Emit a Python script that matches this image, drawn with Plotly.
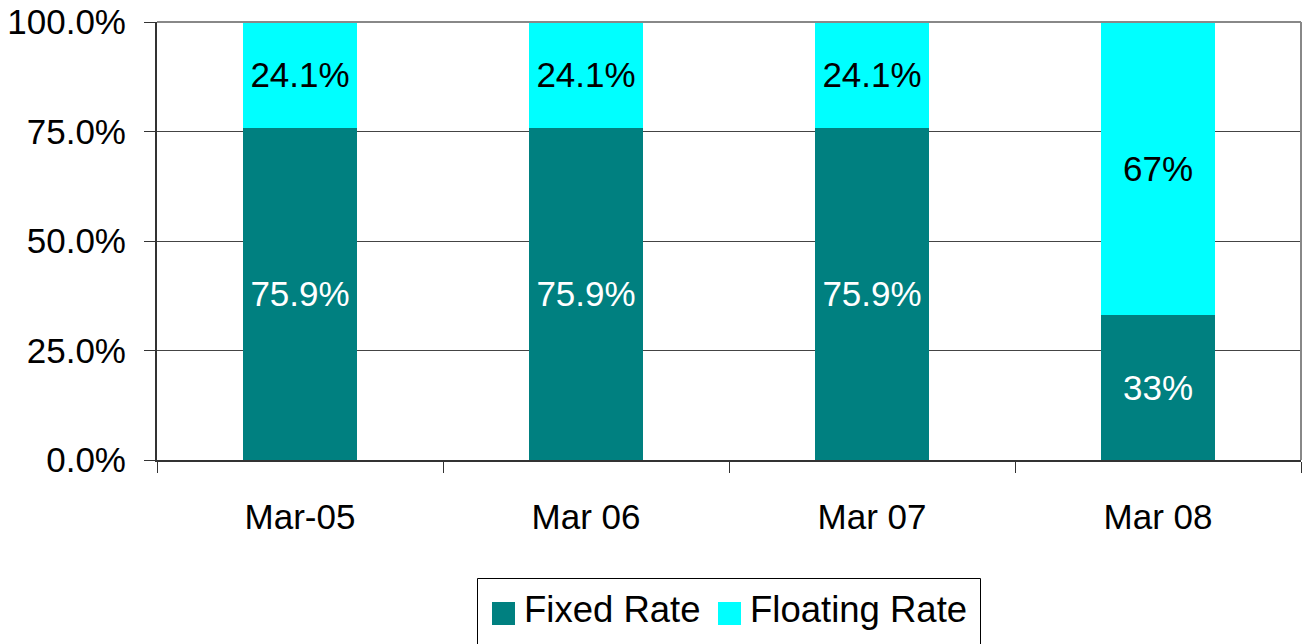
import plotly.graph_objects as go

# Debt mix by year-end (percent of total borrowings)
periods = ["Mar-05", "Mar 06", "Mar 07", "Mar 08"]
fixed_rate = [75.9, 75.9, 75.9, 33]
floating_rate = [24.1, 24.1, 24.1, 67]
y_ticks = [0, 25, 50, 75, 100]

FIXED_COLOR = "#008080"
FLOAT_COLOR = "#00FFFF"
FONT = "Liberation Sans, Arial, sans-serif"

W, H = 1307, 644
L, R, T, B = 157, 6, 22, 184
PW, PH = W - L - R, H - T - B


def label(v):
    return f"{v:g}%"


def px_x(x):
    return (x - L) / PW


def px_y(y):
    return (H - B - y) / PH


fig = go.Figure()
fig.add_bar(
    x=periods, y=fixed_rate, name="Fixed Rate",
    marker=dict(color=FIXED_COLOR, line=dict(width=0)),
    text=[label(v) for v in fixed_rate], textposition="inside",
    insidetextanchor="middle", textangle=0,
    textfont=dict(color="white", size=35, family=FONT),
    showlegend=False,
)
fig.add_bar(
    x=periods, y=floating_rate, name="Floating Rate",
    marker=dict(color=FLOAT_COLOR, line=dict(width=0)),
    text=[label(v) for v in floating_rate], textposition="inside",
    insidetextanchor="middle", textangle=0,
    textfont=dict(color="black", size=35, family=FONT),
    showlegend=False,
)

# Plot-area frame: grey top and right edges
shapes = [
    dict(type="line", xref="paper", yref="paper", x0=0, x1=1, y0=1, y1=1,
         line=dict(color="#888888", width=2)),
    dict(type="line", xref="paper", yref="paper", x0=1, x1=1, y0=0, y1=1,
         line=dict(color="#888888", width=2)),
]

# Legend box with large swatches
shapes.append(dict(type="rect", xref="paper", yref="paper",
                   x0=px_x(477.5), x1=px_x(980.5), y0=px_y(650), y1=px_y(578.5),
                   line=dict(color="black", width=1), fillcolor="white", layer="below"))
legend_items = [("Fixed Rate", FIXED_COLOR, 492), ("Floating Rate", FLOAT_COLOR, 718)]
annotations = []
for name, color, x0 in legend_items:
    shapes.append(dict(type="rect", xref="paper", yref="paper",
                       x0=px_x(x0), x1=px_x(x0 + 23), y0=px_y(625), y1=px_y(602),
                       line=dict(width=0), fillcolor=color))
    annotations.append(dict(text=name, xref="paper", yref="paper",
                            x=px_x(x0 + 30), y=px_y(609), xanchor="left", yanchor="middle",
                            showarrow=False, font=dict(size=36.5, color="black", family=FONT)))

fig.update_layout(
    barmode="stack",
    bargap=0.6,
    width=W, height=H,
    margin=dict(l=L, r=R, t=T, b=B, pad=0, autoexpand=False),
    paper_bgcolor="white",
    plot_bgcolor="white",
    font=dict(family=FONT, size=35, color="black"),
    shapes=shapes,
    annotations=annotations,
    showlegend=False,
)
fig.update_xaxes(
    type="category",
    automargin=False,
    showline=True, linecolor="#333333", linewidth=2,
    ticks="outside", ticklen=11, tickwidth=1, tickcolor="#333333",
    tickson="boundaries",
    ticklabelstandoff=25,
    tickfont=dict(size=35, family=FONT, color="black"),
    showgrid=False,
)
fig.update_yaxes(
    range=[0, 100],
    automargin=False,
    tickvals=y_ticks,
    ticktext=[f"{v:.1f}%" for v in y_ticks],
    showline=True, linecolor="#333333", linewidth=2,
    ticks="outside", ticklen=11, tickwidth=1, tickcolor="#333333",
    ticklabelstandoff=11,
    tickfont=dict(size=35, family=FONT, color="black"),
    showgrid=True, gridcolor="#444444", gridwidth=1,
    zeroline=False,
)

fig.write_html("out.html")
